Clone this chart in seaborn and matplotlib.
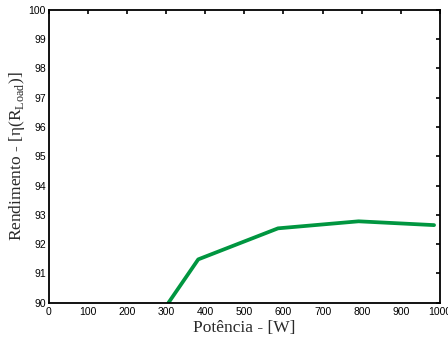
import pandas as pd
import matplotlib
matplotlib.use('Agg')
import matplotlib.pyplot as plt
import seaborn as sns

# Dados
potencia = [306, 382, 586, 792, 985]
rendimento = [90.0, 91.48, 92.54, 92.78, 92.65]
xticks = list(range(0, 1001, 100))
yticks = list(range(90, 101, 1))

df = pd.DataFrame({'Potencia': potencia, 'Rendimento': rendimento})

sns.set_style('white')
plt.rcParams['font.family'] = ['Liberation Sans', 'DejaVu Sans']
plt.rcParams['mathtext.fontset'] = 'custom'
plt.rcParams['mathtext.rm'] = 'Liberation Serif'

fig = plt.figure(figsize=(4.48, 3.43), dpi=100)
ax = fig.add_axes([0.109, 0.1175, 0.873, 0.8535])

sns.lineplot(data=df, x='Potencia', y='Rendimento', color='#009640',
             linewidth=2.7, ax=ax)

ax.set_xlim(0, 1000)
ax.set_ylim(90, 100)
ax.set_xticks(xticks)
ax.set_yticks(yticks)
ax.tick_params(direction='in', length=3, width=1.2, labelsize=7.5,
               top=True, right=True, pad=2, colors='black')
ax.tick_params(axis='x', pad=3)
for s in ax.spines.values():
    s.set_color('black')
    s.set_linewidth(1.3)

ax.set_xlabel('Potência - [W]', family='Liberation Serif', fontsize=12.5,
              color='#2a2a2a', labelpad=2)
ax.set_ylabel(r'Rendimento - [η(R$_{\mathrm{Load}}$)]', family='Liberation Serif',
              fontsize=12.5, color='#2a2a2a', labelpad=1)

fig.savefig('out.png', dpi=100)
